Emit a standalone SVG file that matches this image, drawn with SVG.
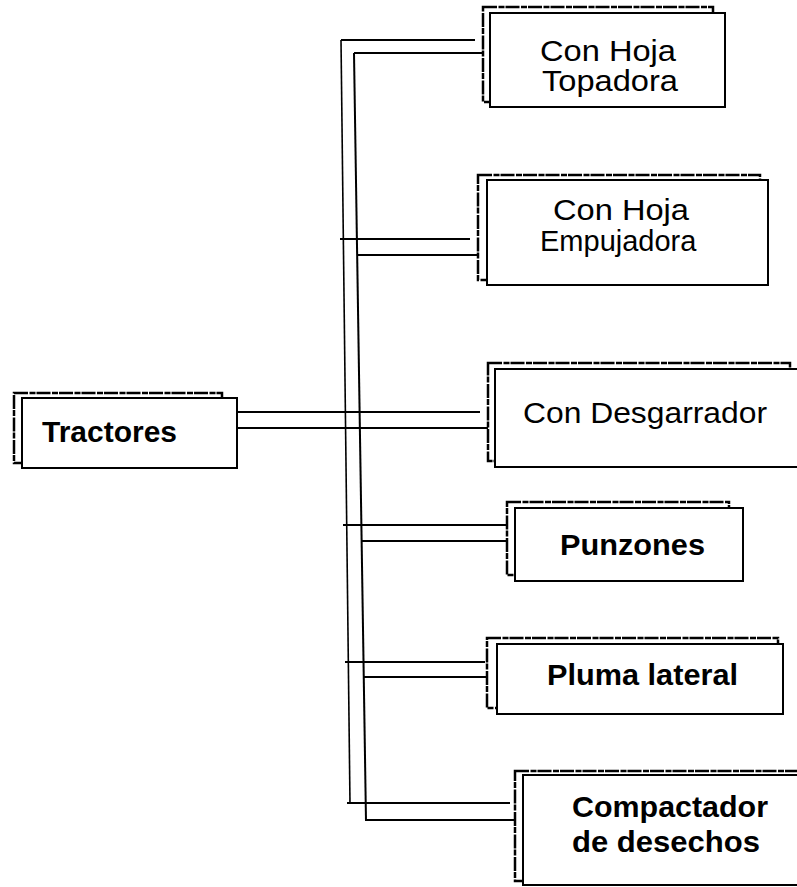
<svg xmlns="http://www.w3.org/2000/svg" width="797" height="887" viewBox="0 0 797 887">
<style>
.back{fill:#fff;stroke:#000;stroke-width:2.5;stroke-dasharray:14 1.5 6 1}
.box{fill:#fff;stroke:#000;stroke-width:2}
.ln{stroke:#000;stroke-width:2;fill:none}
.vo{stroke:#000;stroke-width:1.6;fill:none}
text{font-family:"Liberation Sans",Arial,sans-serif;font-size:30px;fill:#000;text-anchor:start}
.b{font-weight:bold}
</style>
<rect width="797" height="887" fill="#fff"/>
<g id="connectors">
<line class="vo" x1="341" y1="40" x2="350" y2="804"/>
<line class="ln" x1="354" y1="53" x2="366" y2="821"/>
<line class="ln" x1="341" y1="40" x2="475" y2="40"/>
<line class="ln" x1="354" y1="53" x2="490" y2="53"/>
<line class="ln" x1="340" y1="239" x2="470" y2="239"/>
<line class="ln" x1="357" y1="255" x2="487" y2="255"/>
<line class="ln" x1="222" y1="412" x2="480" y2="412"/>
<line class="ln" x1="237" y1="428" x2="495" y2="428"/>
<line class="ln" x1="343" y1="525" x2="507" y2="525"/>
<line class="ln" x1="361" y1="541" x2="515" y2="541"/>
<line class="ln" x1="345" y1="662" x2="485" y2="662"/>
<line class="ln" x1="363" y1="677" x2="497" y2="677"/>
<line class="ln" x1="347" y1="803" x2="510" y2="803"/>
<line class="ln" x1="366" y1="820" x2="523" y2="820"/>
</g>
<g id="tractores">
<rect class="back" x="14" y="393" width="208" height="70"/>
<rect class="box" x="22" y="398" width="215" height="70"/>
<text class="b" x="42" y="442" textLength="135" lengthAdjust="spacingAndGlyphs">Tractores</text>
</g>
<g id="topadora">
<rect class="back" x="483" y="7" width="230" height="95"/>
<rect class="box" x="490" y="13" width="235" height="94"/>
<text x="540" y="61" textLength="136" lengthAdjust="spacingAndGlyphs">Con Hoja</text>
<text x="542" y="91" textLength="136" lengthAdjust="spacingAndGlyphs">Topadora</text>
</g>
<g id="empujadora">
<rect class="back" x="478" y="175" width="282" height="105"/>
<rect class="box" x="487" y="180" width="281" height="105"/>
<text x="553" y="220" textLength="136" lengthAdjust="spacingAndGlyphs">Con Hoja</text>
<text x="540" y="251" style="font-size:29px">Empujadora</text>
</g>
<g id="desgarrador">
<rect class="back" x="488" y="363" width="302" height="98"/>
<rect class="box" x="495" y="369" width="320" height="98"/>
<text x="523" y="423" textLength="244" lengthAdjust="spacingAndGlyphs">Con Desgarrador</text>
</g>
<g id="punzones">
<rect class="back" x="507" y="502" width="222" height="73"/>
<rect class="box" x="515" y="508" width="228" height="73"/>
<text class="b" x="560" y="555" textLength="145" lengthAdjust="spacingAndGlyphs">Punzones</text>
</g>
<g id="pluma">
<rect class="back" x="487" y="638" width="291" height="70"/>
<rect class="box" x="497" y="644" width="286" height="70"/>
<text class="b" x="547" y="685" textLength="191" lengthAdjust="spacingAndGlyphs">Pluma lateral</text>
</g>
<g id="compactador">
<rect class="back" x="515" y="771" width="300" height="110"/>
<rect class="box" x="523" y="775" width="300" height="110"/>
<text class="b" x="572" y="817" textLength="196" lengthAdjust="spacingAndGlyphs">Compactador</text>
<text class="b" x="572" y="852" textLength="188" lengthAdjust="spacingAndGlyphs">de desechos</text>
</g>
</svg>
